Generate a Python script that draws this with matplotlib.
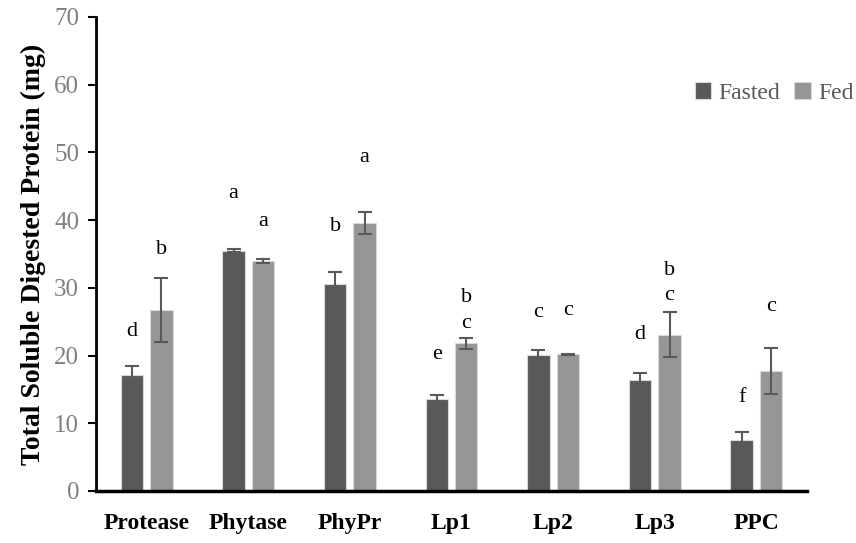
import matplotlib.pyplot as plt
import numpy as np

# data
groups = ['Protease', 'Phytase', 'PhyPr', 'Lp1', 'Lp2', 'Lp3', 'PPC']
fasted = [17.2, 35.5, 30.5, 13.6, 20.1, 16.35, 7.5]
fasted_err = [1.2, 0.25, 1.9, 0.5, 0.7, 1.1, 1.2]
fed = [26.7, 34.0, 39.6, 21.8, 20.2, 23.1, 17.7]
fed_err = [4.7, 0.3, 1.6, 0.85, 0.1, 3.3, 3.4]

# significance letters (text, y value)
fasted_letters = [['d', 23.5], ['a', 44.0], ['b', 39.1], ['e', 20.1],
                  ['c', 26.4], ['d', 23.1], ['f', 13.8]]
fed_letters = [[('b', 35.7)], [('a', 39.8)], [('a', 49.3)],
               [('c', 24.8), ('b', 28.5)], [('c', 26.7)],
               [('c', 28.8), ('b', 32.5)], [('c', 27.2)]]

serif = ['Liberation Serif', 'DejaVu Serif']
plt.rcParams['font.family'] = serif

fig = plt.figure(figsize=(8.56, 5.43), dpi=100)
ax = fig.add_axes([0.112, 0.0958, 0.831, 0.873])

x = np.arange(len(groups))
w = 0.22
off = 0.145
c_fasted = '#595959'
c_fed = '#969696'

ax.bar(x - off, fasted, width=w, color=c_fasted, edgecolor='#d9d9d9',
       linewidth=0.8, label='Fasted', zorder=2)
ax.bar(x + off, fed, width=w, color=c_fed, edgecolor='#d9d9d9',
       linewidth=0.8, label='Fed', zorder=2)
ax.errorbar(x - off, fasted, yerr=fasted_err, fmt='none', ecolor='#595959',
            elinewidth=1.5, capsize=5, capthick=1.5, zorder=3)
ax.errorbar(x + off, fed, yerr=fed_err, fmt='none', ecolor='#595959',
            elinewidth=1.5, capsize=5, capthick=1.5, zorder=3)

for i in range(len(groups)):
    t, yv = fasted_letters[i]
    ax.text(x[i] - off, yv, t, ha='center', va='center', fontsize=16)
    for t, yv in fed_letters[i]:
        ax.text(x[i] + off, yv, t, ha='center', va='center', fontsize=16)

ax.set_xlim(-0.5, 6.5)
ax.set_ylim(0, 70)
ax.set_yticks(np.arange(0, 71, 10))
ax.set_xticks(x)
ax.set_xticklabels(groups, fontsize=17, fontweight='bold')
ax.tick_params(axis='x', length=0, pad=16)
ax.tick_params(axis='y', length=6, width=1.5, labelsize=18,
               labelcolor='#808080', pad=6)
for s in ['top', 'right']:
    ax.spines[s].set_visible(False)
ax.spines['left'].set_linewidth(2)
ax.spines['bottom'].set_linewidth(2.5)
ax.set_ylabel('Total Soluble Digested Protein (mg)', fontsize=20,
              fontweight='bold', labelpad=6)

leg = ax.legend(loc='center right', bbox_to_anchor=(0.997, 0.829),
                bbox_transform=fig.transFigure, frameon=False,
                fontsize=17, ncol=2, handlelength=0.7, handleheight=0.7,
                handletextpad=0.3, columnspacing=0.6, borderpad=0,
                borderaxespad=0)
for t in leg.get_texts():
    t.set_color('#595959')

fig.savefig('out.png', dpi=100)
